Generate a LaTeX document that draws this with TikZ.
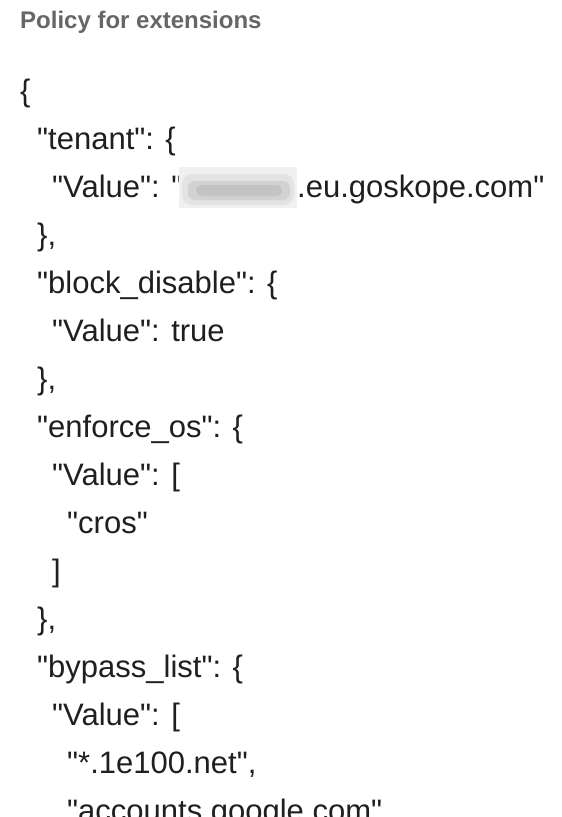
\documentclass[tikz,border=0pt]{standalone}
\usepackage{fontspec}
\setmainfont{Liberation Sans}[Ligatures=TeXOff]
\begin{document}
\begin{tikzpicture}[x=1pt,y=-1pt,
        title/.style={anchor=base west,inner sep=0pt,text=black!60,font=\fontsize{24}{24}\selectfont\bfseries},
        code/.style={anchor=base west,inner sep=0pt,text=black!88,font=\fontsize{31}{31}\selectfont}
      ]
      \useasboundingbox (0,0) rectangle (562,817);
      \fill[white] (0,0) rectangle (562,817);
      \node[title] (title) at (20,28) {Policy for extensions};
      \node[code] (open) at (20,101) {\{};
      \node[code] (tenant) at (37,149) {"tenant": \{};
      \node[code] (tval) at (52,197) {"Value": "};
      \node[code] (tdom) at (297,197) {.eu.goskope.com"};
      \node[code] (tclose) at (37,245) {\},};
      \node[code] (block) at (37,293) {"block\_disable": \{};
      \node[code] (bval) at (52,341) {"Value": true};
      \node[code] (bclose) at (37,389) {\},};
      \node[code] (enforce) at (37,437) {"enforce\_os": \{};
      \node[code] (eval) at (52,485) {"Value": [};
      \node[code] (cros) at (67,533) {"cros"};
      \node[code] (ebrack) at (52,581) {]};
      \node[code] (eclose) at (37,629) {\},};
      \node[code] (bypass) at (37,677) {"bypass\_list": \{};
      \node[code] (yval) at (52,725) {"Value": [};
      \node[code] (net) at (67,773) {"*.1e100.net",};
      \node[code] (acc) at (67,821) {"accounts.google.com"};
      \fill[black!6] (179,167) rectangle (297,208);
      \fill[black!14,rounded corners=10pt,opacity=.6] (182,174) rectangle (294,205);
      \fill[black!24,rounded corners=7pt,opacity=.5] (188,181) rectangle (290,200);
      \fill[black!32,rounded corners=5pt,opacity=.4] (196,185) rectangle (282,196);
    \end{tikzpicture}
\end{document}
